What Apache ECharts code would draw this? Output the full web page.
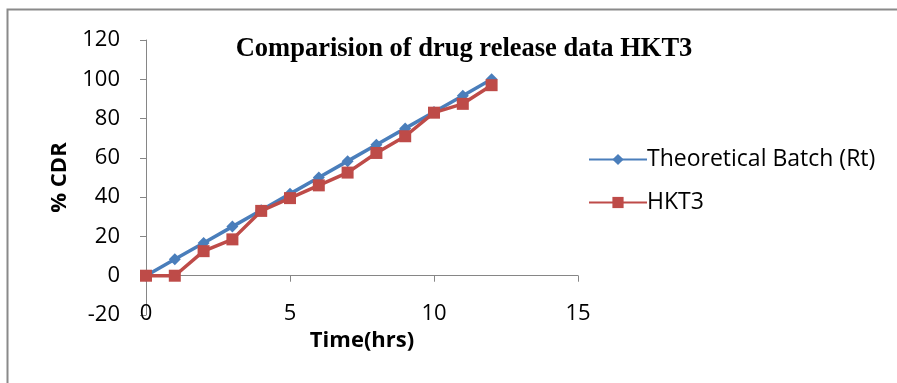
<!DOCTYPE html>
<html>
<head>
<meta charset="utf-8">
<script src="https://cdn.jsdelivr.net/npm/echarts@6/dist/echarts.min.js"></script>
<style>
  html, body { margin: 0; padding: 0; background: #fff; overflow: hidden; }
  #chart { width: 897px; height: 383px; }
</style>
</head>
<body>
<div id="chart"></div>
<script>
const hours = [0, 1, 2, 3, 4, 5, 6, 7, 8, 9, 10, 11, 12];
const theoretical = [0, 8.33, 16.67, 25, 33.33, 41.67, 50, 58.33, 66.67, 75, 83.33, 91.67, 100];
const hkt3 = [0, 0, 12.5, 18.5, 33, 39.5, 46, 52.5, 62.5, 71, 83, 87.5, 97];

const font = '"Open Sans", "Liberation Sans", sans-serif';

const myChart = echarts.init(document.getElementById('chart'));
myChart.setOption({
  animation: false,
  title: {
    text: 'Comparision of drug release data HKT3',
    left: 459,
    textAlign: 'center',
    top: 31,
    textStyle: {
      fontFamily: '"Liberation Serif", "Times New Roman", serif',
      fontWeight: 'bold',
      fontSize: 26.5,
      color: '#000'
    }
  },
  graphic: [{
    type: 'rect',
    shape: {x: 7.5, y: 9.5, width: 920, height: 420},
    style: {fill: 'none', stroke: '#8a8a8a', lineWidth: 2}
  }],
  legend: {
    orient: 'vertical',
    left: 583,
    top: 143,
    itemGap: 20,
    itemWidth: 58,
    itemHeight: 14,
    textStyle: {fontFamily: font, fontSize: 23, color: '#000', padding: [0, 0, 0, -5]},
    data: ['Theoretical Batch (Rt)', 'HKT3']
  },
  grid: {left: 146, right: 319, top: 40, bottom: 68, outerBoundsMode: 'none', containLabel: false},
  xAxis: {
    type: 'value',
    min: 0,
    max: 15,
    interval: 5,
    name: 'Time(hrs)',
    nameLocation: 'middle',
    nameGap: 14,
    nameTextStyle: {fontFamily: font, fontSize: 22, fontWeight: 'bold', color: '#000'},
    axisLine: {onZero: true, lineStyle: {color: '#868686', width: 1}},
    axisTick: {show: true, length: 6, lineStyle: {color: '#868686'}},
    axisLabel: {fontFamily: font, fontSize: 22, color: '#000', margin: -12},
    splitLine: {show: false}
  },
  yAxis: {
    type: 'value',
    min: -20,
    max: 120,
    interval: 20,
    name: '% CDR',
    nameLocation: 'middle',
    nameGap: 75,
    nameTextStyle: {fontFamily: font, fontSize: 22, fontWeight: 'bold', color: '#000'},
    axisLine: {show: true, onZero: false, lineStyle: {color: '#868686', width: 1}},
    axisTick: {show: true, length: 6, lineStyle: {color: '#868686'}},
    axisLabel: {fontFamily: font, fontSize: 22, color: '#000', margin: 26},
    splitLine: {show: false}
  },
  series: [
    {
      name: 'Theoretical Batch (Rt)',
      type: 'line',
      data: hours.map((h, i) => [h, theoretical[i]]),
      symbol: 'diamond',
      symbolSize: 12,
      lineStyle: {color: '#4a7ebb', width: 3.5},
      itemStyle: {color: '#4a7ebb'},
      z: 2
    },
    {
      name: 'HKT3',
      type: 'line',
      data: hours.map((h, i) => [h, hkt3[i]]),
      symbol: 'rect',
      symbolSize: 12,
      lineStyle: {color: '#be4b48', width: 3.5},
      itemStyle: {color: '#be4b48'},
      z: 3
    }
  ]
});
</script>
</body>
</html>
